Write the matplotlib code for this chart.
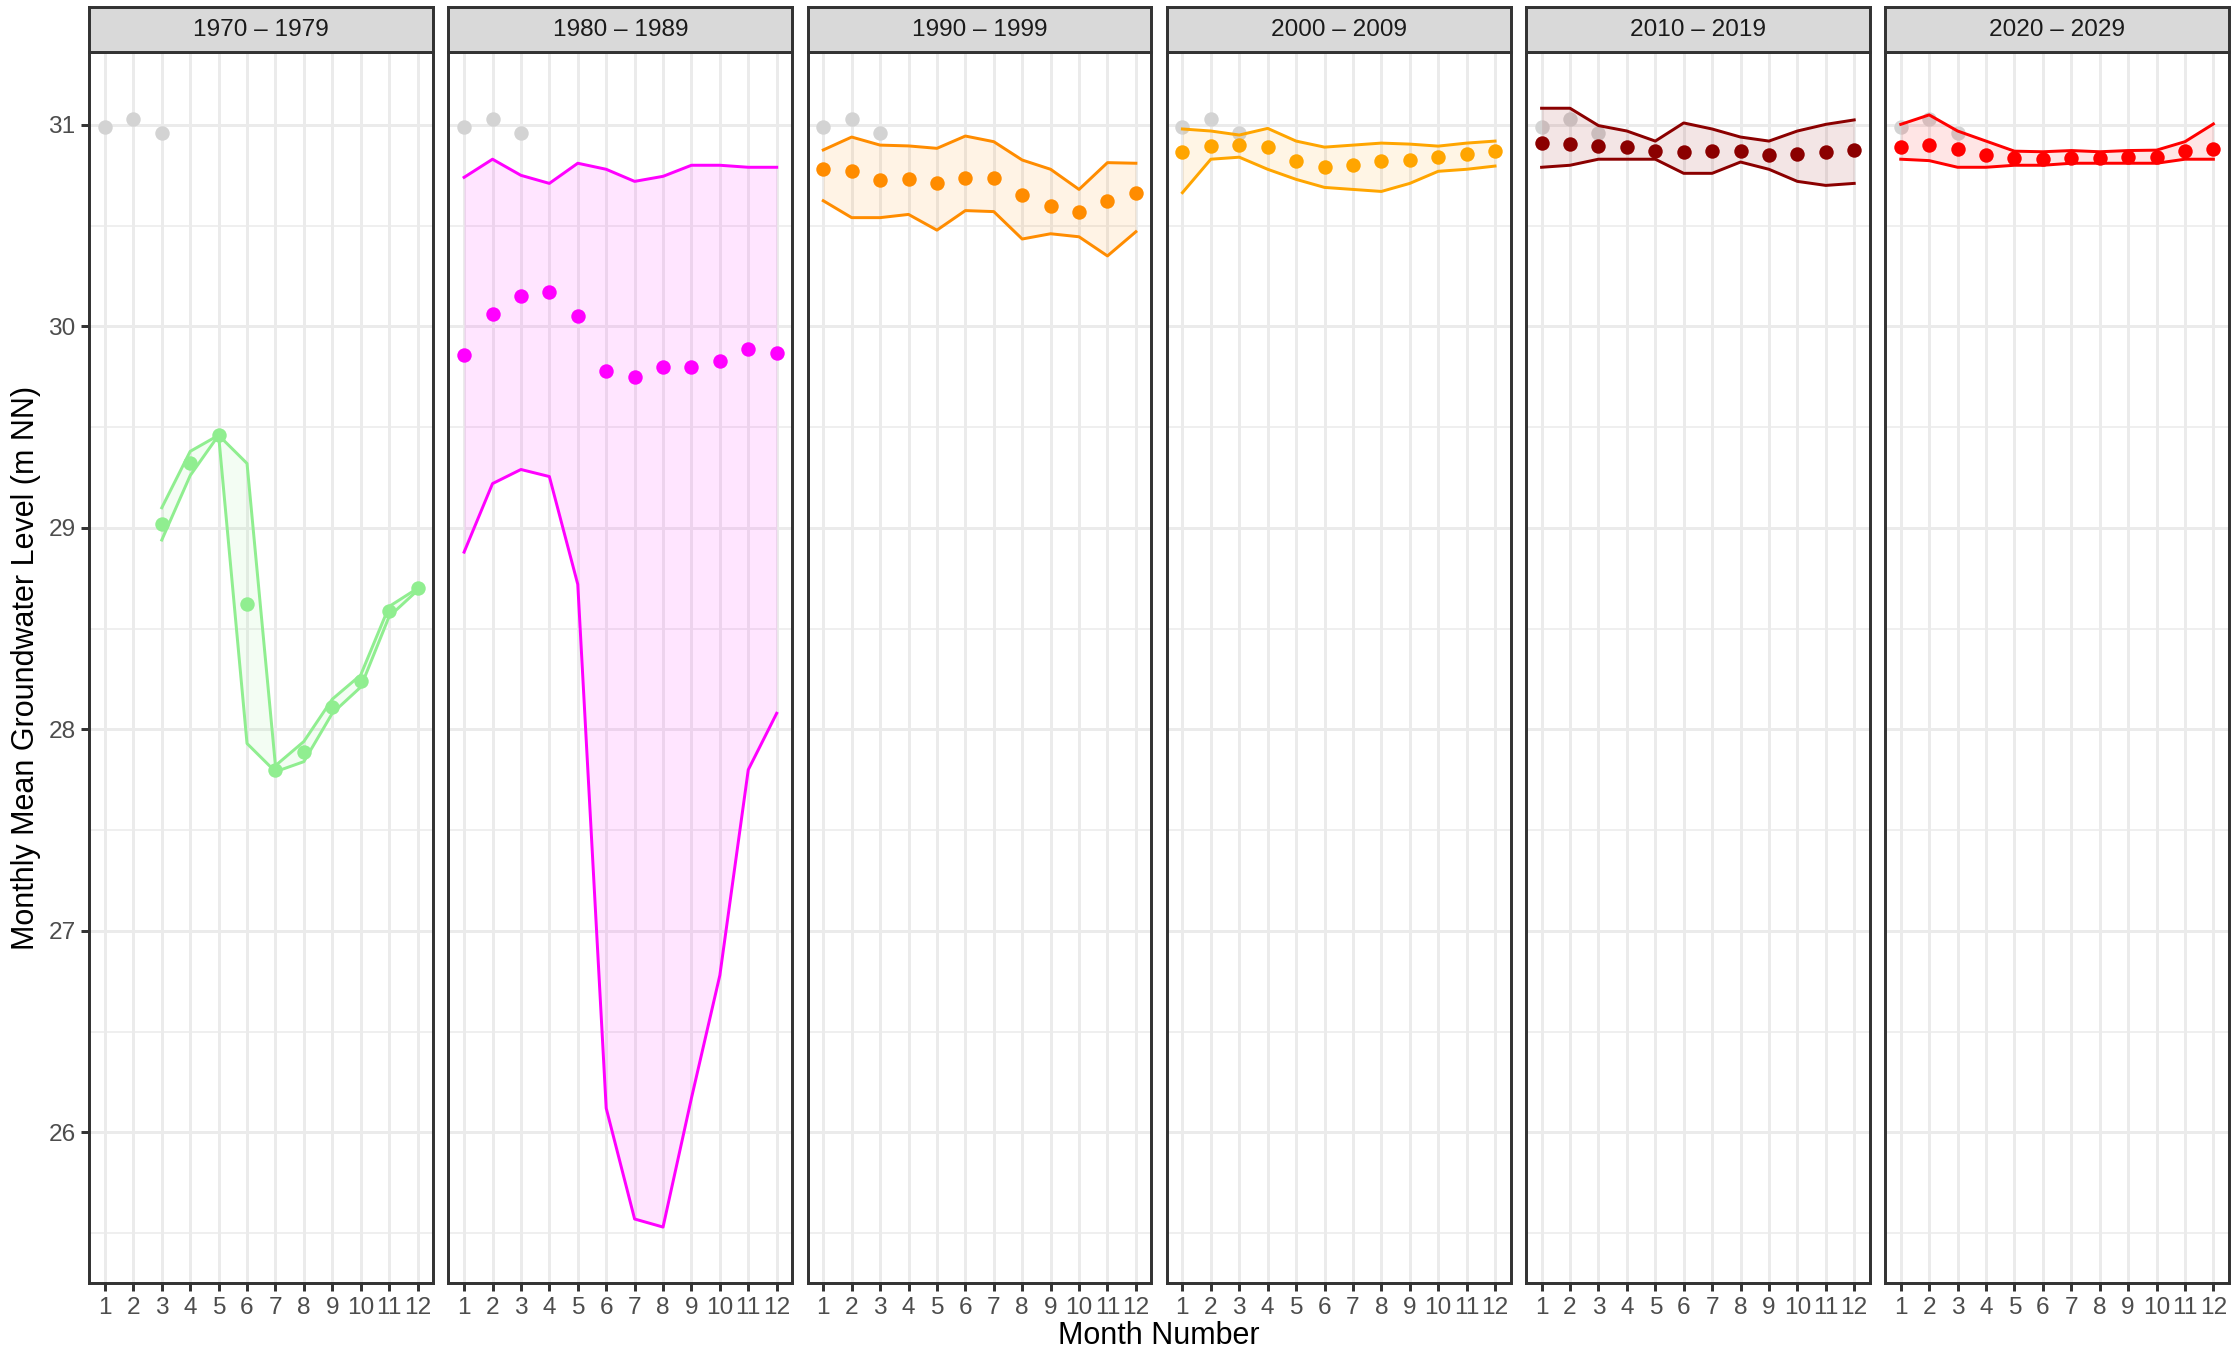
import matplotlib
matplotlib.use("Agg")
import matplotlib.pyplot as plt
import numpy as np

plt.rcParams["font.family"] = ["Liberation Sans", "DejaVu Sans"]

nan = np.nan
months = list(range(1, 13))

decades = ["1970 – 1979", "1980 – 1989", "1990 – 1999",
           "2000 – 2009", "2010 – 2019", "2020 – 2029"]
colors = ["#90EE90", "#FF00FF", "#FF8C00", "#FFA500", "#8B0000", "#FF0000"]

# grey reference points (shown in every panel)
ref_months = [1, 2, 3]
ref_values = [30.99, 31.03, 30.96]

mean_1970 = [nan, nan, 29.02, 29.32, 29.46, 28.62, 27.80, 27.89, 28.11, 28.24, 28.59, 28.70]
upper_1970 = [nan, nan, 29.10, 29.38, 29.46, 29.32, 27.82, 27.94, 28.15, 28.27, 28.61, 28.70]
lower_1970 = [nan, nan, 28.94, 29.26, 29.46, 27.93, 27.79, 27.84, 28.08, 28.21, 28.56, 28.69]

mean_1980 = [29.86, 30.06, 30.15, 30.17, 30.05, 29.78, 29.75, 29.80, 29.80, 29.83, 29.89, 29.87]
upper_1980 = [30.74, 30.83, 30.75, 30.71, 30.81, 30.78, 30.72, 30.745, 30.80, 30.80, 30.79, 30.79]
lower_1980 = [28.88, 29.22, 29.29, 29.255, 28.72, 26.12, 25.57, 25.53, 26.17, 26.78, 27.80, 28.08]

mean_1990 = [30.78, 30.77, 30.727, 30.73, 30.71, 30.735, 30.737, 30.65, 30.597, 30.57, 30.624, 30.66]
upper_1990 = [30.876, 30.94, 30.90, 30.896, 30.884, 30.945, 30.917, 30.826, 30.78, 30.68, 30.813, 30.81]
lower_1990 = [30.624, 30.54, 30.54, 30.556, 30.478, 30.575, 30.57, 30.434, 30.46, 30.445, 30.35, 30.47]

mean_2000 = [30.864, 30.894, 30.90, 30.89, 30.82, 30.79, 30.80, 30.82, 30.824, 30.84, 30.858, 30.87]
upper_2000 = [30.98, 30.97, 30.95, 30.983, 30.92, 30.89, 30.90, 30.91, 30.905, 30.895, 30.91, 30.92]
lower_2000 = [30.664, 30.83, 30.84, 30.78, 30.73, 30.69, 30.68, 30.67, 30.71, 30.77, 30.78, 30.796]

mean_2010 = [30.91, 30.906, 30.897, 30.89, 30.87, 30.864, 30.87, 30.87, 30.85, 30.856, 30.864, 30.877]
upper_2010 = [31.083, 31.083, 30.997, 30.97, 30.92, 31.01, 30.98, 30.94, 30.92, 30.97, 31.003, 31.025]
lower_2010 = [30.79, 30.80, 30.83, 30.83, 30.83, 30.76, 30.76, 30.816, 30.78, 30.72, 30.70, 30.71]

mean_2020 = [30.89, 30.90, 30.88, 30.85, 30.834, 30.83, 30.838, 30.834, 30.84, 30.843, 30.87, 30.88]
upper_2020 = [31.003, 31.05, 30.97, 30.92, 30.87, 30.867, 30.873, 30.867, 30.873, 30.875, 30.917, 31.005]
lower_2020 = [30.83, 30.823, 30.79, 30.79, 30.80, 30.80, 30.81, 30.81, 30.81, 30.81, 30.83, 30.83]

means = [mean_1970, mean_1980, mean_1990, mean_2000, mean_2010, mean_2020]
uppers = [upper_1970, upper_1980, upper_1990, upper_2000, upper_2010, upper_2020]
lowers = [lower_1970, lower_1980, lower_1990, lower_2000, lower_2010, lower_2020]

# ggplot-like 5% expansion
allv = np.concatenate([np.array(a, float) for a in means + uppers + lowers] + [np.array(ref_values)])
lo, hi = np.nanmin(allv), np.nanmax(allv)
pad = 0.05 * (hi - lo)
ylim = (lo - pad, hi + pad)
xlim = (1 - 0.05 * 11, 12 + 0.05 * 11)

W, H = 2236, 1354
fig = plt.figure(figsize=(W / 200, H / 200), dpi=200)

left_px, right_px = 89.3, 2229.0
gap_px = 15.3
pw = (right_px - left_px - 5 * gap_px) / 6
top_px, bottom_px = 52.3, 1283.0
strip_top = 7.3

grey20 = "#333333"
grey30 = "#4D4D4D"
grid_c = "#EBEBEB"
pt_size = 5.2

for i in range(6):
    x0 = left_px + i * (pw + gap_px)
    ax = fig.add_axes([x0 / W, 1 - bottom_px / H, pw / W, (bottom_px - top_px) / H])
    ax.set_xlim(*xlim)
    ax.set_ylim(*ylim)

    # grid
    for y in np.arange(25.5, 31.6, 1.0):
        ax.axhline(y, color=grid_c, lw=0.55, zorder=0)
    for y in range(26, 32):
        ax.axhline(y, color=grid_c, lw=1.07, zorder=0)
    for m in months:
        ax.axvline(m, color=grid_c, lw=1.07, zorder=0)

    c = colors[i]
    ax.plot(ref_months, ref_values, "o", color="#D3D3D3", ms=pt_size, mec="none", zorder=1)
    up = np.array(uppers[i], float)
    lw_ = np.array(lowers[i], float)
    mn = np.array(means[i], float)
    ok = ~np.isnan(up)
    mx = np.array(months)[ok]
    ax.fill_between(mx, lw_[ok], up[ok], color=c, alpha=0.1, lw=0, zorder=2)
    ax.plot(mx, up[ok], color=c, lw=1.07, zorder=3)
    ax.plot(mx, lw_[ok], color=c, lw=1.07, zorder=3)
    ax.plot(mx, mn[ok], "o", color=c, ms=pt_size, mec="none", zorder=4)

    ax.set_xticks(months)
    ax.set_xticklabels([str(m) for m in months])
    ax.set_yticks(range(26, 32))
    ax.tick_params(axis="both", colors=grey20, length=2.75, width=1.07,
                   labelsize=8.8, labelcolor=grey30, pad=2.2)
    if i > 0:
        ax.tick_params(axis="y", left=False, labelleft=False)
    for s in ax.spines.values():
        s.set_color(grey20)
        s.set_linewidth(1.07)
        s.set_zorder(5)

    # strip
    sax = fig.add_axes([x0 / W, 1 - top_px / H, pw / W, (top_px - strip_top) / H])
    sax.set_facecolor("#D9D9D9")
    sax.set_xticks([])
    sax.set_yticks([])
    for s in sax.spines.values():
        s.set_color(grey20)
        s.set_linewidth(1.07)
    sax.text(0.5, 0.5, decades[i], ha="center", va="center", fontsize=8.8,
             color="#1A1A1A", transform=sax.transAxes)

fig.text((left_px + right_px) / 2 / W, 1 - 1336 / H, "Month Number",
         ha="center", va="center", fontsize=11, color="black")
fig.text(26 / W, 1 - (top_px + bottom_px) / 2 / H,
         "Monthly Mean Groundwater Level (m NN)", rotation=90,
         ha="center", va="center", fontsize=11, color="black")

fig.savefig("out.png", dpi=200, facecolor="white")
